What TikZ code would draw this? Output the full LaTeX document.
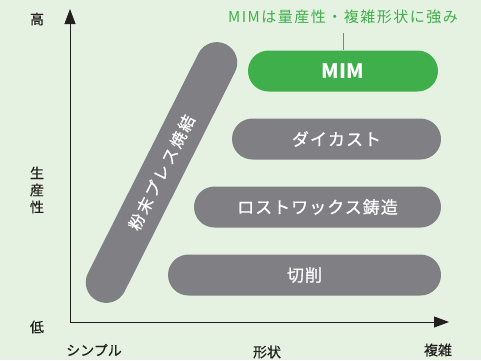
\documentclass[tikz,border=0pt]{standalone}
\usepackage{fontspec}
\setmainfont{Noto Sans CJK JP}
\newfontfamily\jp{Noto Sans CJK JP}
\newfontfamily\jpm[FakeBold=0.8]{Noto Sans CJK JP}
\newfontfamily\jpax[FakeBold=0.4]{Noto Sans CJK JP}
\usetikzlibrary{arrows.meta}
\definecolor{bg}{HTML}{E6F2E1}
\definecolor{mimgreen}{HTML}{3FAF4B}
\definecolor{barg}{HTML}{808084}
\definecolor{axisc}{HTML}{231F20}
\tikzset{
  capsule/.style={draw=none, fill=barg, rounded corners=20.5pt, minimum height=41pt, inner sep=0pt, text=white, font=\jpm\fontsize{17}{17}\selectfont\addfontfeature{LetterSpace=6}},
  axislabel/.style={text=axisc, font=\jpax\fontsize{14}{14}\selectfont, inner sep=0pt},
  axisline/.style={draw=axisc, line width=0.8pt, -{Triangle[length=15pt,width=11pt]}}
}
\begin{document}
\begin{tikzpicture}[x=1pt,y=-1pt]
\path[fill=bg, use as bounding box] (0,0) rectangle (481,360);
% axes
\coordinate (origin) at (70,322);
\coordinate (ytop) at (70,9);
\coordinate (xend) at (449,322);
\draw[axisline] (origin) -- (ytop);
\draw[axisline] (origin) -- (xend);
% axis labels
\node[axislabel] (hi) at (37,19) {高};
\node[axislabel, align=center, font=\jpax\fontsize{14}{17}\selectfont] (prod) at (37,190) {生\\産\\性};
\node[axislabel] (lo) at (37,327) {低};
\node[axislabel] (simple) at (94,350) {シンプル};
\node[axislabel] (shape) at (267,352) {形状};
\node[axislabel] (complex) at (438,350) {複雑};
% slanted bar
\node[capsule, minimum width=287pt, rotate=63.3, font=\jpm\fontsize{16}{16}\selectfont\addfontfeature{LetterSpace=15}] (powder) at (161.5,172.5) {粉末プレス焼結};
% boxes
\node[capsule, fill=mimgreen, minimum width=190pt, font=\jp\bfseries\fontsize{20}{20}\selectfont] (mim) at (343,71) {MIM};
\node[capsule, minimum width=209pt] (die) at (336.5,139) {ダイカスト};
\node[capsule, minimum width=247pt] (lost) at (317.5,207) {ロストワックス鋳造};
\node[capsule, minimum width=273pt] (cut) at (304.5,275) {切削};
% green note
\node[text=mimgreen, font=\jp\fontsize{15}{15}\selectfont\addfontfeature{LetterSpace=10}, inner sep=0pt] (note) at (343,17) {MIMは量産性・複雑形状に強み};
\draw[mimgreen, line width=0.8pt] (note.south |- 0,33) -- (mim.north);
\end{tikzpicture}
\end{document}
